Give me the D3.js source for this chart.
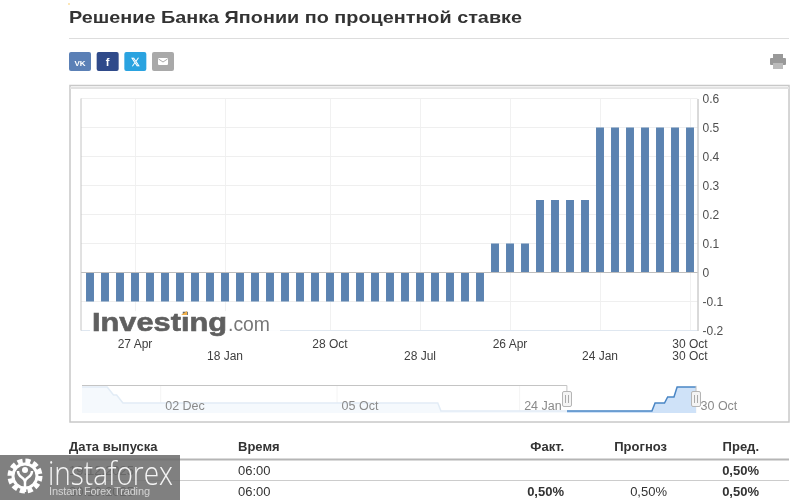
<!DOCTYPE html>
<html>
<head>
<meta charset="utf-8">
<script src="https://cdnjs.cloudflare.com/ajax/libs/d3/7.8.5/d3.min.js"></script>
<style>
  html, body { margin: 0; padding: 0; background: #fff; overflow: hidden; }
  svg { display: block; font-family: "Liberation Sans", Arial, sans-serif; filter: blur(0.3px); }
</style>
</head>
<body>
<svg id="page" width="800" height="500"></svg>
<script>
// one bar per meeting in the zoomed window
var rateValues = [
  -0.1, -0.1, -0.1, -0.1, -0.1, -0.1, -0.1, -0.1, -0.1, -0.1,
  -0.1, -0.1, -0.1, -0.1, -0.1, -0.1, -0.1, -0.1, -0.1, -0.1,
  -0.1, -0.1, -0.1, -0.1, -0.1, -0.1, -0.1,
  0.1, 0.1, 0.1,
  0.25, 0.25, 0.25, 0.25,
  0.5, 0.5, 0.5, 0.5, 0.5, 0.5, 0.5
];
var yTicks = [-0.2, -0.1, 0, 0.1, 0.2, 0.3, 0.4, 0.5, 0.6];

// the labels sit on two rows, 30 Oct shows up on both
var upperTickIndex = [3, 16, 28, 40];
var upperTickLabels = ["27 Apr", "28 Oct", "26 Apr", "30 Oct"];
var lowerTickIndex = [9, 22, 34, 40];
var lowerTickLabels = ["18 Jan", "28 Jul", "24 Jan", "30 Oct"];

// navigator: step corners of the long history, by meeting number
var navMeeting = [0, 8, 10, 11, 13, 113, 114, 181, 182, 185, 186, 188, 189, 195];
var navRate = [0.5, 0.5, 0.3, 0.3, 0.1, 0.1, -0.1, -0.1, 0.1, 0.1, 0.25, 0.25, 0.5, 0.5];
var navTickMeeting = [25, 81, 139, 195];
var navTickLabels = ["02 Dec", "05 Oct", "24 Jan", "30 Oct"];
var navWindow = [154, 195];

var tableColumns = ["Дата выпуска", "Время", "Факт.", "Прогноз", "Пред."];
var tableRows = [
  ["19.12.2025", "06:00", "", "", "0,50%"],
  ["30.10.2025", "06:00", "0,50%", "0,50%", "0,50%"]
];

var svg = d3.select("#page");

// page header
svg.append("rect").attr("x", 68).attr("y", 3).attr("width", 2).attr("height", 2).attr("fill", "#fde7b8");
svg.append("text").attr("x", 69).attr("y", 23)
  .attr("font-size", 17).attr("font-weight", "bold").attr("fill", "#333")
  .attr("textLength", 453).attr("lengthAdjust", "spacingAndGlyphs")
  .text("Решение Банка Японии по процентной ставке");
svg.append("line").attr("x1", 69).attr("x2", 789).attr("y1", 38.5).attr("y2", 38.5).attr("stroke", "#ddd");

// share buttons
var shareColors = ["#5b80b6", "#2f4a8a", "#2aa3e0", "#a9a9a9"];
var shareGlyphs = ["VK", "f", "𝕏", ""];
var shareX = d3.scalePoint().domain(d3.range(4)).range([69, 152]);
var buttons = svg.selectAll("g.share").data(shareColors).join("g").attr("class", "share")
  .attr("transform", function (d, i) { return "translate(" + shareX(i) + ",52)"; });
buttons.append("rect").attr("width", 22).attr("height", 19).attr("rx", 2).attr("fill", function (d) { return d; });
buttons.append("text").attr("x", 11).attr("y", 13.5).attr("text-anchor", "middle")
  .attr("font-size", function (d, i) { return i === 0 ? 8 : 11; }).attr("font-weight", "bold").attr("fill", "#fff")
  .text(function (d, i) { return shareGlyphs[i]; });
svg.append("rect").attr("x", 158).attr("y", 58).attr("width", 10).attr("height", 7).attr("rx", 1).attr("fill", "#fff");
svg.append("path").attr("d", "M158.5 59L163 62L167.5 59").attr("fill", "none").attr("stroke", "#a9a9a9");

// print icon
var printer = svg.append("g").attr("fill", "#999");
printer.append("rect").attr("x", 773).attr("y", 54).attr("width", 10).attr("height", 4);
printer.append("rect").attr("x", 770).attr("y", 58).attr("width", 16).attr("height", 7).attr("rx", 1);
printer.append("rect").attr("x", 773).attr("y", 63).attr("width", 10).attr("height", 6).attr("fill", "#bbb");

// chart frame
svg.append("rect").attr("x", 70).attr("y", 85.5).attr("width", 719).attr("height", 336.5)
  .attr("fill", "none").attr("stroke", "#c8c8c8").attr("stroke-width", 1.5);
svg.append("line").attr("x1", 70).attr("x2", 789).attr("y1", 88).attr("y2", 88).attr("stroke", "#e2e2e2").attr("stroke-width", 2);

// main plot
var plot = { left: 81, right: 697.5, top: 98.5, bottom: 330.5 };
var x = d3.scaleBand().domain(d3.range(rateValues.length)).range([82.5, 697.5])
  .paddingInner(0.47).paddingOuter(0.235);
var y = d3.scaleLinear().domain([-0.2, 0.6]).range([plot.bottom, plot.top]);

var gridTicks = upperTickIndex.concat(lowerTickIndex);
svg.append("g").selectAll("line").data(gridTicks).join("line")
  .attr("x1", function (d) { return Math.round(x(d) + x.bandwidth() / 2) + 0.5; })
  .attr("x2", function (d) { return Math.round(x(d) + x.bandwidth() / 2) + 0.5; })
  .attr("y1", plot.top).attr("y2", plot.bottom).attr("stroke", "#f1f1f1");
svg.append("g").selectAll("line").data(yTicks).join("line")
  .attr("x1", plot.left).attr("x2", plot.right)
  .attr("y1", function (d) { return y(d); }).attr("y2", function (d) { return y(d); })
  .attr("stroke", function (d) { return d === -0.2 ? "#dfe7f0" : "#efefef"; });

svg.append("g").selectAll("rect").data(rateValues).join("rect")
  .attr("x", function (d, i) { return x(i); })
  .attr("width", x.bandwidth())
  .attr("y", function (d) { return y(Math.max(d, 0)); })
  .attr("height", function (d) { return Math.abs(y(d) - y(0)); })
  .attr("fill", "#5b83b1");

svg.append("line").attr("x1", plot.left).attr("x2", plot.right).attr("y1", y(0)).attr("y2", y(0)).attr("stroke", "#bdbdbd");
svg.append("line").attr("x1", plot.left).attr("x2", plot.left).attr("y1", plot.top).attr("y2", plot.bottom).attr("stroke", "#c4c4c4");

var yAxis = svg.append("g").attr("transform", "translate(" + plot.right + ",0)")
  .call(d3.axisRight(y).tickValues(yTicks).tickFormat(String).tickSize(0).tickPadding(5));
yAxis.select(".domain").attr("stroke", "#b4b4b4");
yAxis.selectAll("text").attr("font-size", 12).attr("font-family", "inherit").attr("fill", "#4f4f4f");

function dateAxis(rowY, index, labels) {
  var g = svg.append("g").attr("transform", "translate(0," + rowY + ")")
    .call(d3.axisBottom(x).tickValues(index).tickSize(0).tickPadding(0)
      .tickFormat(function (d) { return labels[index.indexOf(d)]; }));
  g.select(".domain").remove();
  g.selectAll("text").attr("font-size", 12).attr("font-family", "inherit").attr("fill", "#3f3f3f");
}
dateAxis(339, upperTickIndex, upperTickLabels);
dateAxis(351, lowerTickIndex, lowerTickLabels);

// Investing.com mark over the plot
var logo = svg.append("g");
logo.append("rect").attr("x", 90).attr("y", 311).attr("width", 190).attr("height", 27).attr("fill", "#fff").attr("opacity", 0.9);
logo.append("text").attr("x", 92).attr("y", 331).attr("font-size", 26).attr("font-weight", "bold")
  .attr("fill", "#5f5f5f").attr("stroke", "#5f5f5f").attr("stroke-width", 0.6)
  .attr("textLength", 135).attr("lengthAdjust", "spacingAndGlyphs").text("Investing");
logo.append("text").attr("x", 228).attr("y", 331).attr("font-size", 20)
  .attr("fill", "#777").attr("textLength", 42).attr("lengthAdjust", "spacingAndGlyphs").text(".com");
logo.append("path").attr("d", "M181 315L187 311L187 315Z").attr("fill", "#f2b14a");

// navigator
var navX = d3.scaleLinear().domain([0, 195]).range([82, 696]);
var navY = d3.scaleLinear().domain([-0.1, 0.5]).range([411, 387]);
var navLine = d3.line().x(function (d) { return navX(d[0]); }).y(function (d) { return navY(d[1]); });
var navArea = d3.area().x(function (d) { return navX(d[0]); }).y0(413).y1(function (d) { return navY(d[1]); });
var navPoints = d3.zip(navMeeting, navRate);

svg.append("clipPath").attr("id", "navSelected").append("rect")
  .attr("x", navX(navWindow[0])).attr("y", 380)
  .attr("width", navX(navWindow[1]) - navX(navWindow[0])).attr("height", 40);
svg.append("clipPath").attr("id", "navFaded").append("rect")
  .attr("x", navX(0)).attr("y", 380)
  .attr("width", navX(navWindow[0]) - navX(0)).attr("height", 40);

svg.append("g").selectAll("line").data(navTickMeeting).join("line")
  .attr("x1", function (d) { return navX(d); }).attr("x2", function (d) { return navX(d); })
  .attr("y1", 385).attr("y2", 413).attr("stroke", "#f4f4f4");

var faded = svg.append("g").attr("clip-path", "url(#navFaded)");
faded.append("path").datum(navPoints).attr("d", navArea).attr("fill", "#f5f9fd");
faded.append("path").datum(navPoints).attr("d", navLine).attr("fill", "none").attr("stroke", "#e2ecf6").attr("stroke-width", 1.5);
var selected = svg.append("g").attr("clip-path", "url(#navSelected)");
selected.append("path").datum(navPoints).attr("d", navArea).attr("fill", "#cfe2f8");
selected.append("path").datum(navPoints).attr("d", navLine).attr("fill", "none").attr("stroke", "#4a86c5").attr("stroke-width", 1.5);

svg.append("path")
  .attr("d", "M" + navX(0) + " 385.5H" + navX(navWindow[0]) + "V391M" + navX(navWindow[1]) + " 391V386")
  .attr("fill", "none").attr("stroke", "#c4c4c4");

var navAxis = svg.append("g").attr("transform", "translate(0,401)")
  .call(d3.axisBottom(navX).tickValues(navTickMeeting).tickSize(0).tickPadding(0)
    .tickFormat(function (d) { return navTickLabels[navTickMeeting.indexOf(d)]; }));
navAxis.select(".domain").remove();
navAxis.selectAll("text").attr("font-size", 12.5).attr("font-family", "inherit").attr("fill", "#8a8a8a")
  .attr("text-anchor", "start").attr("dx", 4);

var handles = svg.append("g").selectAll("g").data(navWindow).join("g")
  .attr("transform", function (d) { return "translate(" + Math.round(navX(d)) + ",391)"; });
handles.append("rect").attr("x", -4.5).attr("y", 0.5).attr("width", 9).attr("height", 15).attr("rx", 1.5)
  .attr("fill", "#f4f4f4").attr("stroke", "#b5b5b5");
handles.append("path").attr("d", "M-1.5 4V12M1.5 4V12").attr("stroke", "#aaa").attr("fill", "none");

// table
var colX = [69, 238, 564, 667, 759];
var colAnchor = ["start", "start", "end", "end", "end"];
svg.append("g").selectAll("text").data(tableColumns).join("text")
  .attr("x", function (d, i) { return colX[i]; }).attr("y", 451)
  .attr("text-anchor", function (d, i) { return colAnchor[i]; })
  .attr("font-size", 13).attr("font-weight", "bold").attr("fill", "#333")
  .text(function (d) { return d; });
svg.append("line").attr("x1", 69).attr("x2", 789).attr("y1", 459.5).attr("y2", 459.5).attr("stroke", "#b5b5b5").attr("stroke-width", 2);
svg.append("line").attr("x1", 69).attr("x2", 789).attr("y1", 480.5).attr("y2", 480.5).attr("stroke", "#ccc");

var rowY = d3.scalePoint().domain([0, 1]).range([475, 496]);
tableRows.forEach(function (row, r) {
  svg.append("g").selectAll("text").data(row).join("text")
    .attr("x", function (d, i) { return colX[i]; }).attr("y", rowY(r))
    .attr("text-anchor", function (d, i) { return colAnchor[i]; })
    .attr("font-size", 13)
    .attr("font-weight", function (d, i) { return i === 2 || i === 4 ? "bold" : "normal"; })
    .attr("fill", "#333")
    .text(function (d) { return d; });
});

// instaforex watermark, sits on top of the first table column
var mark = svg.append("g");
mark.append("rect").attr("x", 0).attr("y", 455).attr("width", 180).attr("height", 45).attr("fill", "#6e6e6e").attr("opacity", 0.88);
mark.append("circle").attr("cx", 25).attr("cy", 476).attr("r", 15).attr("fill", "none")
  .attr("stroke", "#fff").attr("stroke-width", 5).attr("stroke-dasharray", "5 2.85");
mark.append("circle").attr("cx", 25).attr("cy", 476).attr("r", 12).attr("fill", "none")
  .attr("stroke", "#fff").attr("stroke-width", 3);
mark.append("circle").attr("cx", 25).attr("cy", 470).attr("r", 3).attr("fill", "#fff");
mark.append("path").attr("d", "M18 471C18 478 25 477 25 482V492M32 471C32 478 25 477 25 482")
  .attr("fill", "none").attr("stroke", "#fff").attr("stroke-width", 2.5);
mark.append("text").attr("x", 48).attr("y", 485).attr("font-family", "'Open Sans', sans-serif")
  .attr("font-size", 33).attr("font-weight", 300).attr("fill", "#f4f4f4")
  .attr("textLength", 125).attr("lengthAdjust", "spacingAndGlyphs").text("instaforex");
mark.append("text").attr("x", 49).attr("y", 495).attr("font-size", 11).attr("fill", "#d4d4d4")
  .attr("textLength", 101).text("Instant Forex Trading");
</script>
</body>
</html>
